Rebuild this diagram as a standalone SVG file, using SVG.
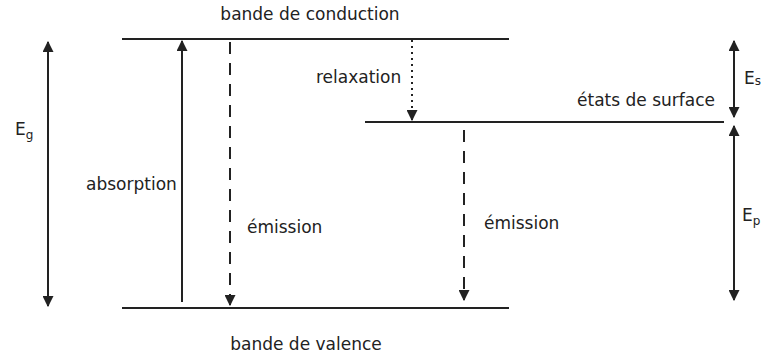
<svg xmlns="http://www.w3.org/2000/svg" width="767" height="360" viewBox="0 0 767 360">
<style>
.t{font-family:"DejaVu Sans","Liberation Sans",sans-serif;font-size:17px;fill:#222}
.s{font-size:12px}
.lvl{stroke:#222;stroke-width:2;fill:none}
.c{stroke:#222;stroke-width:2;fill:none}
.dash{stroke-dasharray:12,9}
.dot{stroke-dasharray:2,4}
</style>
<defs>
<marker id="ah" viewBox="0 0 10 10" refX="9" refY="5" markerWidth="5.5" markerHeight="5.5" orient="auto-start-reverse" markerUnits="strokeWidth">
<path d="M0,0 L10,5 L0,10 Z" fill="#222"/>
</marker>
</defs>
<rect width="767" height="360" fill="#fff"/>
<g id="conduction">
<line class="lvl" x1="122" y1="39" x2="509" y2="39"/>
<text class="t" x="310" y="20" text-anchor="middle">bande de conduction</text>
</g>
<g id="valence">
<line class="lvl" x1="122" y1="308" x2="509" y2="308"/>
<text class="t" x="306" y="350" text-anchor="middle">bande de valence</text>
</g>
<g id="surface">
<line class="lvl" x1="365" y1="122" x2="724" y2="122"/>
<text class="t" x="715" y="106" text-anchor="end">états de surface</text>
</g>
<g id="labels">
<text class="t" x="15" y="135">E<tspan class="s" dy="4">g</tspan></text>
<text class="t" x="744" y="84">E<tspan class="s" dy="1">s</tspan></text>
<text class="t" x="742" y="221">E<tspan class="s" dy="4">p</tspan></text>
<text class="t" x="86" y="190">absorption</text>
<text class="t" x="247" y="233">émission</text>
<text class="t" x="316" y="83">relaxation</text>
<text class="t" x="484" y="229">émission</text>
</g>
<g id="connectors">
<line class="c" x1="48" y1="42" x2="48" y2="306" marker-start="url(#ah)" marker-end="url(#ah)"/>
<line class="c" x1="182" y1="302" x2="182" y2="41" marker-end="url(#ah)"/>
<line class="c dash" x1="230" y1="42" x2="230" y2="305" marker-end="url(#ah)"/>
<line class="c dot" x1="412" y1="40" x2="412" y2="120" marker-end="url(#ah)"/>
<line class="c dash" x1="464" y1="130" x2="464" y2="300" marker-end="url(#ah)"/>
<line class="c" x1="734" y1="41" x2="734" y2="117" marker-start="url(#ah)" marker-end="url(#ah)"/>
<line class="c" x1="734" y1="126" x2="734" y2="300" marker-start="url(#ah)" marker-end="url(#ah)"/>
</g>
</svg>
